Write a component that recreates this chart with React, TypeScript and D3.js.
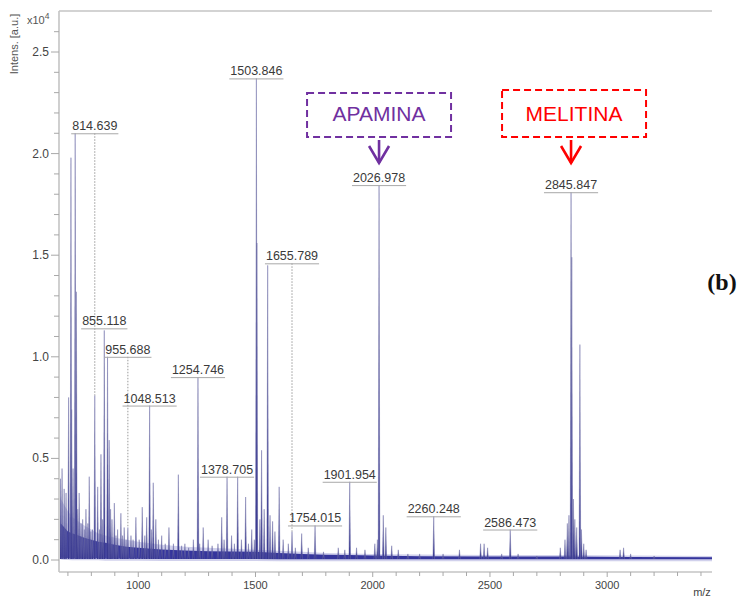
import * as d3 from "d3";
import { useEffect, useRef } from "react";

// unlabelled peaks (m/z, intensity x10^4)
const peakMz = [
  663, 668, 675, 684, 692, 703, 713, 716, 722, 731, 736, 742, 748, 756, 763, 770, 777, 785, 791, 798,
  805, 827, 835, 841, 848, 869, 876, 882, 888, 898, 905, 912, 926, 933, 940, 948, 969, 978, 990, 1004,
  1017, 1028, 1036, 1056, 1064, 1075, 1086, 1100, 1115, 1131, 1150, 1171, 1185, 1199, 1215, 1235, 1262,
  1277, 1298, 1315, 1340, 1356, 1366, 1398, 1410, 1424, 1440, 1458, 1470, 1484, 1495, 1506, 1519, 1526,
  1537, 1552, 1562, 1573, 1583, 1601, 1618, 1640, 1670, 1697, 1725, 1790, 1853, 1881, 1931, 1967, 2009,
  2020, 2045, 2056, 2081, 2109, 2150, 2200, 2300, 2370, 2460, 2475, 2490, 2550, 2620, 2700, 2800, 2820,
  2830, 2837, 2849, 2856, 2862, 2870, 2883.6, 2890, 2900, 2910, 3055, 3070, 3100, 3200,
];
const peakInt = [
  0.69, 0.4, 0.45, 0.35, 0.33, 0.8, 1.98, 0.74, 0.45, 2.1, 1.32, 0.25, 0.33, 0.18, 0.2, 0.15, 0.25, 0.18, 0.41, 0.14,
  0.15, 0.36, 0.15, 0.52, 0.2, 1.0, 0.59, 0.25, 0.2, 0.28, 0.12, 0.15, 0.23, 0.12, 0.16, 0.1, 0.12, 0.1, 0.21, 0.1,
  0.26, 0.12, 0.21, 0.15, 0.38, 0.2, 0.1, 0.12, 0.08, 0.16, 0.08, 0.42, 0.07, 0.08, 0.06, 0.1, 0.08,
  0.16, 0.1, 0.07, 0.08, 0.21, 0.1, 0.12, 0.08, 0.41, 0.1, 0.31, 0.08, 0.15, 0.1, 1.56, 0.2, 0.54,
  0.25, 1.45, 0.22, 0.19, 0.14, 0.36, 0.1, 0.08, 0.06, 0.13, 0.06, 0.04, 0.06, 0.05, 0.06, 0.05, 0.08,
  0.1, 0.22, 0.16, 0.07, 0.05, 0.03, 0.03, 0.03, 0.05, 0.08, 0.08, 0.06, 0.03, 0.03, 0.02, 0.06, 0.1,
  0.18, 0.22, 1.49, 0.3, 0.2, 0.16, 1.06, 0.15, 0.08, 0.05, 0.05, 0.06, 0.03, 0.02,
];

// labelled peaks
const labelMz = [814.639, 855.118, 955.688, 1048.513, 1254.746, 1378.705, 1503.846, 1655.789, 1754.015, 1901.954, 2026.978, 2260.248, 2586.473, 2845.847];
const labelLevel = [2.1, 1.14, 1.0, 0.76, 0.9, 0.41, 2.37, 1.46, 0.17, 0.385, 1.845, 0.215, 0.15, 1.81];
const labelPeak = [0.81, 1.13, 0.16, 0.76, 0.9, 0.41, 2.37, 0.14, 0.17, 0.385, 1.845, 0.215, 0.15, 1.81];

// baseline noise envelope
const noiseMz = [662, 670, 685, 700, 720, 745, 770, 800, 830, 860, 900, 950, 1000, 1100, 1200, 1300, 1400, 1500, 1600, 1700, 1800, 1900, 2000, 2200, 2500, 2800, 3100, 3447];
const noiseHigh = [0.17, 0.18, 0.16, 0.14, 0.13, 0.12, 0.11, 0.1, 0.09, 0.085, 0.075, 0.065, 0.06, 0.052, 0.047, 0.043, 0.042, 0.04, 0.034, 0.03, 0.026, 0.024, 0.022, 0.019, 0.017, 0.017, 0.015, 0.013];
const noiseLow = [0.02, 0.012, 0.01, 0.01, 0.008, 0.008, 0.008, 0.008, 0.008, 0.006, 0.006, 0.006, 0.006, 0.005, 0.005, 0.005, 0.005, 0.005, 0.004, 0.004, 0.004, 0.004, 0.004, 0.004, 0.004, 0.004, 0.004, 0.004];
const noiseHaze = [0.32, 0.3, 0.27, 0.24, 0.21, 0.19, 0.17, 0.15, 0.13, 0.12, 0.11, 0.1, 0.09, 0.075, 0.065, 0.06, 0.055, 0.05, 0.045, 0.04, 0.035, 0.032, 0.03, 0.027, 0.024, 0.024, 0.022, 0.02];

const xLabelTicks = [1000, 1500, 2000, 2500, 3000];
const yLabelTicks = [0, 0.5, 1.0, 1.5, 2.0, 2.5];

const annotText = ["APAMINA", "MELITINA"];
const annotMz = [2026.978, 2845.847];
const annotColor = ["#7030a0", "#ff0000"];

const FONT = "'Liberation Sans', Arial, Helvetica, sans-serif";

function drawSpectrum(svgEl: SVGSVGElement) {
  const plot = { left: 59, right: 712, top: 11, bottom: 572 };
  const svg = d3.select(svgEl);
  svg.selectAll("*").remove();

  const x = d3.scaleLinear().domain([662, 3447]).range([plot.left, plot.right]);
  const y = d3.scaleLinear().domain([0, 2.5]).range([560, 52]);

  const defs = svg.append("defs");
  defs
    .append("clipPath")
    .attr("id", "plot-clip")
    .append("rect")
    .attr("x", plot.left + 1)
    .attr("y", plot.top)
    .attr("width", plot.right - plot.left)
    .attr("height", plot.bottom - plot.top);

  const grad = defs.append("linearGradient").attr("id", "peak-grad").attr("x1", 0).attr("x2", 0).attr("y1", 0).attr("y2", 1);
  grad.append("stop").attr("offset", "0%").attr("stop-color", "#7c7c98");
  grad.append("stop").attr("offset", "55%").attr("stop-color", "#50509a");
  grad.append("stop").attr("offset", "100%").attr("stop-color", "#2c2c8c");

  // frame
  const frame = svg.append("g").attr("stroke", "#c4c4c4").attr("stroke-width", 1.6).attr("fill", "none");
  frame.append("line").attr("x1", plot.left).attr("x2", plot.right).attr("y1", plot.top).attr("y2", plot.top);
  frame.append("line").attr("x1", plot.left).attr("x2", plot.left).attr("y1", plot.top).attr("y2", plot.bottom);
  frame.append("line").attr("x1", plot.left).attr("x2", plot.right).attr("y1", plot.bottom).attr("y2", plot.bottom);

  // y ticks
  const yMinor = d3.range(0, 27).map((d) => d / 10);
  svg
    .append("g")
    .selectAll("line")
    .data(yMinor)
    .join("line")
    .attr("x1", (d) => (Math.round(d * 10) % 5 === 0 ? plot.left - 8 : plot.left - 5))
    .attr("x2", plot.left)
    .attr("y1", (d) => y(d))
    .attr("y2", (d) => y(d))
    .attr("stroke", "#a8a8a8")
    .attr("stroke-width", 1);

  svg
    .append("g")
    .selectAll("text")
    .data(yLabelTicks)
    .join("text")
    .attr("x", plot.left - 10)
    .attr("y", (d) => y(d) + 4)
    .attr("text-anchor", "end")
    .attr("font-family", FONT)
    .attr("font-size", 12)
    .attr("fill", "#444")
    .text((d) => d.toFixed(1));

  // x ticks
  const xMinor = d3.range(700, 3401, 100);
  svg
    .append("g")
    .selectAll("line")
    .data(xMinor)
    .join("line")
    .attr("x1", (d) => x(d))
    .attr("x2", (d) => x(d))
    .attr("y1", plot.bottom)
    .attr("y2", (d) => (d % 500 === 0 ? plot.bottom + 5 : plot.bottom + 4))
    .attr("stroke", "#a8a8a8")
    .attr("stroke-width", 1);

  svg
    .append("g")
    .selectAll("text")
    .data(xLabelTicks)
    .join("text")
    .attr("x", (d) => x(d))
    .attr("y", plot.bottom + 17)
    .attr("text-anchor", "middle")
    .attr("font-family", FONT)
    .attr("font-size", 11)
    .attr("fill", "#444")
    .text((d) => d);

  svg
    .append("text")
    .attr("x", 702)
    .attr("y", 596)
    .attr("text-anchor", "middle")
    .attr("font-family", FONT)
    .attr("font-size", 11)
    .attr("fill", "#444")
    .text("m/z");

  svg
    .append("text")
    .attr("transform", "translate(18,44) rotate(-90)")
    .attr("text-anchor", "middle")
    .attr("font-family", FONT)
    .attr("font-size", 11)
    .attr("fill", "#555")
    .text("Intens. [a.u.]");

  const scaleText = svg
    .append("text")
    .attr("x", 27)
    .attr("y", 24)
    .attr("font-family", FONT)
    .attr("font-size", 11)
    .attr("fill", "#555");
  scaleText.append("tspan").text("x10");
  scaleText.append("tspan").attr("dy", -5).attr("font-size", 8.5).text("4");

  // spectrum
  const g = svg.append("g").attr("clip-path", "url(#plot-clip)");

  const noise = noiseMz.map((mz, i) => ({ mz, hi: noiseHigh[i], lo: noiseLow[i], haze: noiseHaze[i] }));
  g.append("path")
    .datum(noise)
    .attr("fill", "#c2c2e6")
    .attr("opacity", 0.75)
    .attr("d", d3.area<any>().x((d) => x(d.mz)).y0((d) => y(d.lo) + 2).y1((d) => y(d.haze)));
  g.append("path")
    .datum(noise)
    .attr("fill", "#35359c")
    .attr("d", d3.area<any>().x((d) => x(d.mz)).y0((d) => y(d.lo)).y1((d) => y(d.hi)));

  const peaks = peakMz
    .map((mz, i) => ({ mz, h: peakInt[i] }))
    .concat(labelMz.map((mz, i) => ({ mz, h: labelPeak[i] })));

  const peakLine = d3
    .line<[number, number]>()
    .x((d) => x(d[0]))
    .y((d) => y(d[1]));

  g.append("g")
    .selectAll("path")
    .data(peaks)
    .join("path")
    .attr("d", (p) =>
      peakLine([
        [p.mz - 3.5, 0.005],
        [p.mz, p.h],
        [p.mz + 3.5, 0.005],
      ])
    )
    .attr("fill", "url(#peak-grad)")
    .attr("stroke", "#6a6aa6")
    .attr("stroke-width", 0.45);

  // peak labels
  const labels = svg
    .append("g")
    .selectAll("g")
    .data(labelMz.map((mz, i) => ({ mz, level: labelLevel[i], peak: labelPeak[i] })))
    .join("g");

  labels
    .filter((d) => d.level - d.peak > 0.05)
    .append("line")
    .attr("x1", (d) => x(d.mz))
    .attr("x2", (d) => x(d.mz))
    .attr("y1", (d) => y(d.level))
    .attr("y2", (d) => y(d.peak))
    .attr("stroke", "#9a9a9a")
    .attr("stroke-width", 1)
    .attr("stroke-dasharray", "1.5,1.5");

  const labelText = labels
    .append("text")
    .attr("x", (d) => x(d.mz))
    .attr("y", (d) => y(d.level) - 3)
    .attr("text-anchor", "middle")
    .attr("font-family", FONT)
    .attr("font-size", 12.5)
    .attr("fill", "#3a3a3a")
    .text((d) => d.mz.toFixed(3));

  labelText.each(function (d) {
    const w = (this as SVGTextElement).getComputedTextLength();
    d3.select((this as SVGTextElement).parentNode as SVGGElement)
      .append("line")
      .attr("x1", x(d.mz) - w / 2 - 1)
      .attr("x2", x(d.mz) + w / 2 + 1)
      .attr("y1", y(d.level) + 0.5)
      .attr("y2", y(d.level) + 0.5)
      .attr("stroke", "#a8a8a8")
      .attr("stroke-width", 1);
  });

  // annotations
  annotText.forEach((text, i) => {
    const ax = x(annotMz[i]);
    const cx = ax + (i === 0 ? 0 : 3);
    const top = i === 0 ? 93 : 90;
    const boxBottom = 137;
    const a = svg.append("g").attr("stroke", annotColor[i]).attr("fill", "none");
    a.append("rect")
      .attr("x", cx - 72)
      .attr("y", top)
      .attr("width", 144)
      .attr("height", boxBottom - top)
      .attr("stroke-width", 2)
      .attr("stroke-dasharray", "7,4");
    a.append("line")
      .attr("x1", ax)
      .attr("x2", ax)
      .attr("y1", boxBottom + 3)
      .attr("y2", boxBottom + 26)
      .attr("stroke-width", 2.6);
    a.append("path")
      .attr("d", `M${ax - 10},${boxBottom + 9}L${ax},${boxBottom + 26}L${ax + 10},${boxBottom + 9}`)
      .attr("stroke-width", 2.6);
    svg
      .append("text")
      .attr("x", cx)
      .attr("y", 121)
      .attr("text-anchor", "middle")
      .attr("font-family", FONT)
      .attr("font-size", 21)
      .attr("fill", annotColor[i])
      .text(text);
  });

  svg
    .append("text")
    .attr("x", 722)
    .attr("y", 290)
    .attr("text-anchor", "middle")
    .attr("font-family", "'Liberation Serif', 'Times New Roman', serif")
    .attr("font-weight", "bold")
    .attr("font-size", 24)
    .attr("fill", "#111")
    .text("(b)");
}

export default function App() {
  const svgRef = useRef<SVGSVGElement>(null);

  useEffect(() => {
    if (svgRef.current) drawSpectrum(svgRef.current);
  }, []);

  return (
    <svg
      ref={svgRef}
      width={742}
      height={599}
      viewBox="0 0 742 599"
      style={{ position: "absolute", left: 0, top: 0, background: "#fff" }}
    />
  );
}
